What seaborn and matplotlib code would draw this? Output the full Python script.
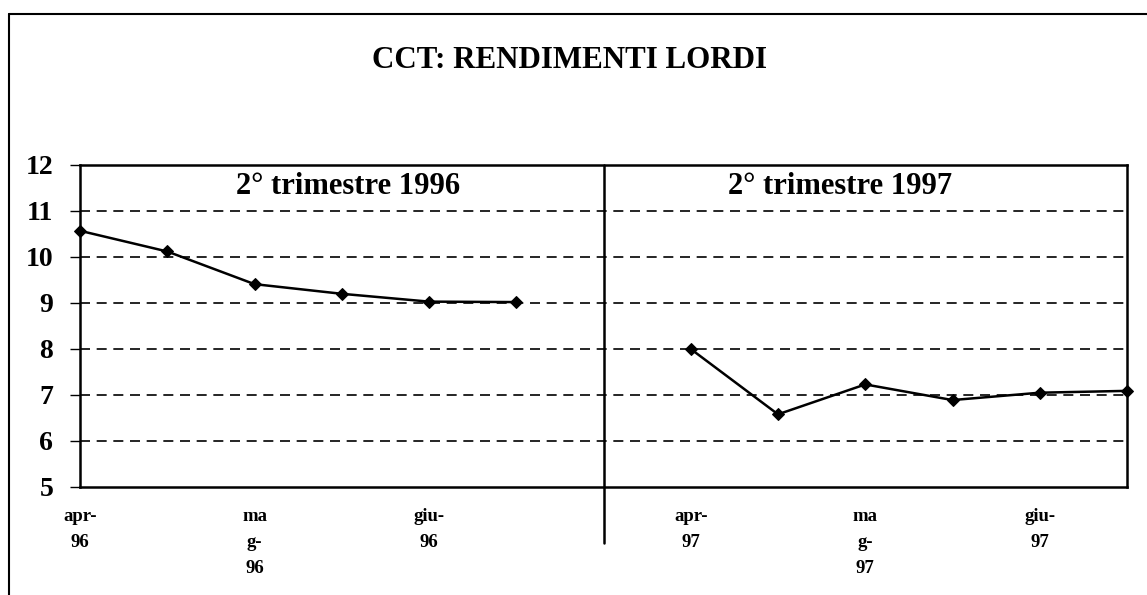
import matplotlib
matplotlib.use("Agg")
import matplotlib.pyplot as plt
import seaborn as sns
import pandas as pd
from matplotlib.lines import Line2D

sns.set_theme(style="white")
plt.rcParams['font.family'] = ['Liberation Serif', 'DejaVu Serif']
plt.rcParams['text.color'] = 'black'
plt.rcParams['xtick.color'] = 'black'
plt.rcParams['ytick.color'] = 'black'
plt.rcParams['axes.labelcolor'] = 'black'

# Data
months_1996 = ["apr-96", "", "mag-96", "", "giu-96", ""]
values_1996 = [10.57, 10.12, 9.41, 9.20, 9.03, 9.02]
months_1997 = ["apr-97", "", "mag-97", "", "giu-97", ""]
values_1997 = [8.00, 6.58, 7.23, 6.89, 7.05, 7.09]
tick_labels = ["apr-\n96", "", "ma\ng-\n96", "", "giu-\n96", "", "",
               "apr-\n97", "", "ma\ng-\n97", "", "giu-\n97", ""]
panel_titles = ["2° trimestre 1996", "2° trimestre 1997"]
y_ticks = [5, 6, 7, 8, 9, 10, 11, 12]

df96 = pd.DataFrame({"pos": list(range(0, 6)), "val": values_1996})
df97 = pd.DataFrame({"pos": list(range(7, 13)), "val": values_1997})

fig = plt.figure(figsize=(11.47, 5.95), dpi=100)
ax = fig.add_axes([80/1147, 1-487/595, (1127-80)/1147, (487-165)/595])

for d in (df96, df97):
    sns.lineplot(data=d, x="pos", y="val", ax=ax, color="black", lw=1.8,
                 marker="D", markersize=6.5, markeredgecolor="black", clip_on=False)

ax.set_xlim(0, 12)
ax.set_ylim(5, 12)
ax.set_yticks(y_ticks)
ax.set_yticklabels([str(v) for v in y_ticks], fontsize=20, fontweight="bold")
ax.set_xticks(range(13))
ax.set_xticklabels(tick_labels, fontsize=13.5, fontweight="bold", linespacing=1.7, va="top")
ax.tick_params(axis="x", direction="inout", length=10, width=1.2, color="black", pad=10)
ax.tick_params(axis="y", direction="out", length=7.2, width=1.0, color="black", pad=12, left=True)
ax.set_xlabel("")
ax.set_ylabel("")

for yv in [6, 7, 8, 9, 10, 11]:
    ax.axhline(yv, color="black", lw=1.2, ls=(0, (6, 4)), zorder=0)

for s in ax.spines.values():
    s.set_color("black")
    s.set_linewidth(1.8)

# divider between the two panels
ax.plot([6, 6], [-0.174, 1], transform=ax.get_xaxis_transform(), color="black",
        lw=1.8, clip_on=False)

ax.text(3.07, 11.85, panel_titles[0], ha="center", va="top", fontsize=22, fontweight="bold")
ax.text(8.71, 11.85, panel_titles[1], ha="center", va="top", fontsize=22, fontweight="bold")

fig.text(570/1147, 1-60/595, "CCT: RENDIMENTI LORDI", ha="center", va="center",
         fontsize=22.3, fontweight="bold")

# figure frame (top and left edges)
fig.add_artist(Line2D([9/1147, 1.0], [1-14/595, 1-14/595], transform=fig.transFigure,
                      color="black", lw=1.5))
fig.add_artist(Line2D([9/1147, 9/1147], [0, 1-14/595], transform=fig.transFigure,
                      color="black", lw=1.5))

fig.savefig("out.png", dpi=100)
